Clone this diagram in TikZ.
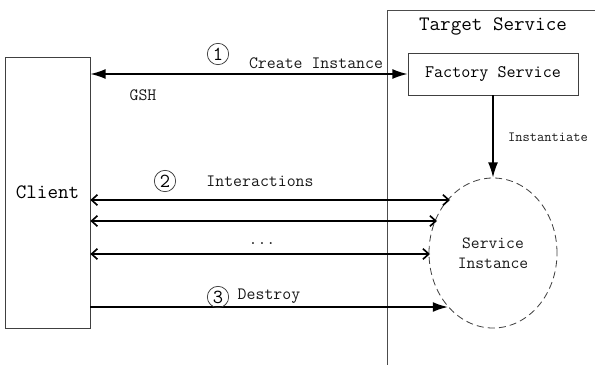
\documentclass[tikz,border=0pt]{standalone}
\usepackage{fontspec}
\usetikzlibrary{arrows.meta,shapes.geometric}

\begin{document}
\begin{tikzpicture}[x=0.03cm,y=-0.03cm,>={Latex[length=13pt,width=8.5pt]},
  font=\ttfamily,
  box/.style={draw=black!75,line width=0.6pt,inner sep=0pt},
  num/.style={circle,draw=black!80,line width=0.6pt,inner sep=0pt,minimum size=0.64cm,
    text=black,font=\ttfamily\fontsize{17}{17}\selectfont},
  lbl/.style={text=black!90,font=\ttfamily\fontsize{14.8}{16}\selectfont},
  open/.style={>={Straight Barb[length=5pt,width=9pt]}},
  msg/.style={line width=1.4pt}]

  \path[use as bounding box] (0,0) rectangle (595,365);

  % client and target side
  \node[box,minimum width=2.55cm,minimum height=8.13cm,text=black,
    font=\ttfamily\fontsize{17.5}{18}\selectfont] (client) at (47.5,192.5) {Client};
  \draw[black!70,line width=0.7pt] (595,10) -- (387,10) -- (387,365);
  \node[lbl,text=black,font=\ttfamily\fontsize{17.5}{18}\selectfont] (target) at (493,26) {Target Service};
  \node[box,minimum width=5.1cm,minimum height=1.26cm,text=black,
    font=\ttfamily\fontsize{15}{16}\selectfont] (factory) at (493,74) {Factory Service};
  \node[ellipse,draw=black!75,line width=0.7pt,dash pattern=on 6pt off 3.5pt,
    minimum width=3.84cm,minimum height=4.5cm,align=center,text=black!90,
    font=\ttfamily\fontsize{14.6}{17}\selectfont] (inst) at (493,253) {Service\\Instance};

  % free ends on the instance
  \coordinate (i1) at (450,200);
  \coordinate (i2) at (437,221);
  \coordinate (i3) at (430,254);
  \coordinate (d)  at (448,307);

  \draw[msg,<->] (client.east |- factory.west) -- (factory.west);
  \draw[msg,->] (factory.south) -- (inst.north);
  \draw[msg,open,<->] (client.east |- i1) -- (i1);
  \draw[msg,open,<->] (client.east |- i2) -- (i2);
  \draw[msg,open,<->] (client.east |- i3) -- (i3);
  \draw[msg,->] (client.east |- d) -- (d);

  % labels
  \node[num] (n1) at (218,54) {1};
  \node[lbl] (create) at (316,63) {Create Instance};
  \node[lbl] (gsh) at (143,95) {GSH};
  \node[lbl,font=\ttfamily\fontsize{12}{13}\selectfont] (instantiate) at (548,137) {Instantiate};
  \node[num] (n2) at (165,181) {2};
  \node[lbl] (interact) at (260,181) {Interactions};
  \node[lbl] (dots) at (262,244) {...};
  \node[num] (n3) at (218,297) {3};
  \node[lbl] (destroy) at (269,296) {Destroy};
\end{tikzpicture}
\end{document}
